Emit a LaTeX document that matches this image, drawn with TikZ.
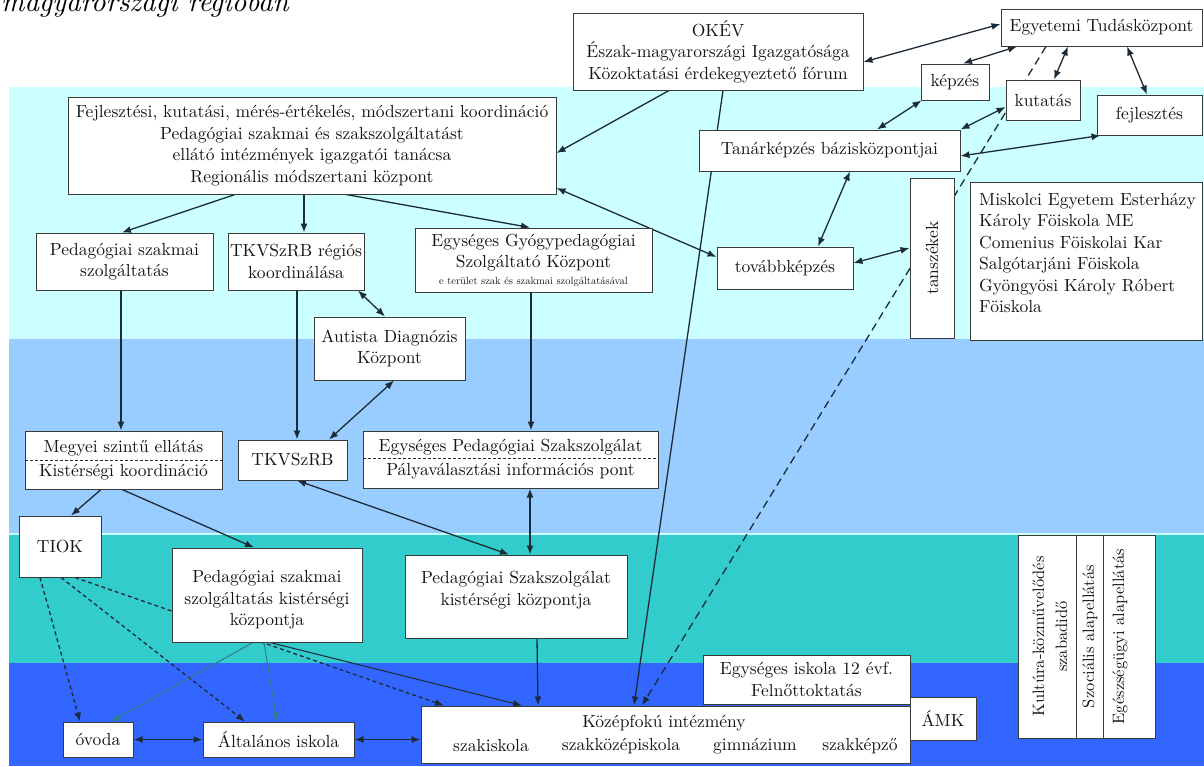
\documentclass[tikz,border=0pt]{standalone}
\usepackage{fontspec}
\setmainfont{lmroman10-regular}[Extension=.otf, ItalicFont=lmroman10-italic, BoldFont=lmroman10-bold]
\usetikzlibrary{arrows.meta,calc}
\pgfdeclarelayer{bands}
\pgfdeclarelayer{lines}
\pgfsetlayers{bands,lines,main}
\definecolor{bandA}{HTML}{CCFFFF}
\definecolor{bandB}{HTML}{99CCFF}
\definecolor{bandC}{HTML}{33CCCC}
\definecolor{bandD}{HTML}{3366FF}
\definecolor{ink}{HTML}{1C2B38}
\definecolor{edge}{HTML}{3A3A3A}
\definecolor{thinteal}{HTML}{2E7F86}
\definecolor{txtc}{HTML}{141414}
\tikzset{
  bx/.style={draw=edge, line width=1pt, fill=white, inner sep=0pt, align=center,
    font=\fontsize{17.5}{21.5}\selectfont, text=txtc},
  txt/.style={inner sep=0pt, align=center, font=\fontsize{17.5}{21.5}\selectfont, text=txtc},
  coltxt/.style={txt, rotate=90, font=\fontsize{16.5}{23}\selectfont},
  conn/.style={draw=ink, line width=1.3pt},
  arr/.style={-{Latex[length=9pt,width=7pt]}},
  darr/.style={{Latex[length=9pt,width=7pt]}-{Latex[length=9pt,width=7pt]}},
  longdash/.style={dash pattern=on 8pt off 5pt},
  shortdash/.style={dash pattern=on 4pt off 3pt},
  thinline/.style={draw=thinteal, line width=1pt},
}
\begin{document}
\begin{tikzpicture}[x=1pt,y=-1pt]
\useasboundingbox (0,0) rectangle (1204,766);
% ---------- nodes ----------
\node[anchor=base west, inner sep=0pt, font=\fontsize{28.5}{34}\selectfont\itshape, text=black] (title) at (1,11) {magyarországi régióban};

\node[bx, minimum width=290pt, minimum height=77pt] (okev) at (718,51.5) {OKÉV\\Észak-magyarországi Igazgatósága\\Közoktatási érdekegyeztető fórum};
\node[bx, minimum width=201pt, minimum height=37pt] (egy) at (1101.5,27.5) {Egyetemi Tudásközpont};
\node[bx, minimum width=68pt, minimum height=36pt] (kepzes) at (955,82) {képzés};
\node[bx, minimum width=74pt, minimum height=40pt] (kutatas) at (1043,100) {kutatás};
\node[bx, minimum width=105pt, minimum height=40pt] (fejlesztes) at (1149.5,115) {fejlesztés};
\node[bx, minimum width=261pt, minimum height=41pt] (tanar) at (829.5,150.5) {Tanárképzés bázisközpontjai};
\node[bx, minimum width=488pt, minimum height=97pt] (fejl) at (312,145.5) {Fejlesztési, kutatási, mérés-értékelés, módszertani koordináció\\Pedagógiai szakmai és szakszolgáltatást\\ellátó intézmények igazgatói tanácsa\\Regionális módszertani központ};

\node[bx, minimum width=177pt, minimum height=57pt] (pedsz) at (124.5,261.5) {Pedagógiai szakmai\\szolgáltatás};
\node[bx, minimum width=136pt, minimum height=57pt] (tkvreg) at (296,261.5) {TKVSzRB régiós\\koordinálása};
\node[bx, minimum width=237pt, minimum height=64pt] (egygyogy) at (533.5,260) {Egységes Gyógypedagógiai\\Szolgáltató Központ\\[-5pt]{\fontsize{10.5}{12}\selectfont e terület szak és szakmai szolgáltatásával}};
\node[bx, minimum width=136pt, minimum height=42pt] (tovabb) at (785,268) {továbbképzés};
\node[bx, minimum width=44pt, minimum height=160pt] (tansz) at (932,258) {};
\node[txt, rotate=90] (tansztext) at (tansz.center) {tanszékek};
\node[bx, minimum width=232pt, minimum height=158pt] (misk) at (1086,261) {};
\node[txt, anchor=north west, align=left] (misktext) at (979,193) {Miskolci Egyetem Esterházy\\Károly Föiskola ME\\Comenius Föiskolai Kar\\Salgótarjáni Föiskola\\Gyöngyösi Károly Róbert\\Föiskola};
\node[bx, minimum width=151pt, minimum height=63pt] (autista) at (389.5,348.5) {Autista Diagnózis\\Központ};

\node[bx, minimum width=197pt, minimum height=58pt, font=\fontsize{17.5}{24}\selectfont] (megyei) at (123.5,460) {Megyei szintű ellátás\\Kistérségi koordináció};
\node[bx, minimum width=109pt, minimum height=40pt] (tkv) at (292.5,460) {TKVSzRB};
\node[bx, minimum width=295pt, minimum height=57pt, font=\fontsize{17.5}{24}\selectfont] (egyped) at (510.5,459.5) {Egységes Pedagógiai Szakszolgálat\\Pályaválasztási információs pont};

\node[bx, minimum width=82pt, minimum height=61pt] (tiok) at (60,546.5) {TIOK};
\node[bx, minimum width=190pt, minimum height=94pt] (pedkist) at (267,595) {};
\node[txt] (pedkisttext) at (267,600) {Pedagógiai szakmai\\szolgáltatás kistérségi\\központja};
\node[bx, minimum width=222pt, minimum height=83pt] (szakkist) at (516,596.5) {};
\node[txt] (szakkisttext) at (516,590) {Pedagógiai Szakszolgálat\\kistérségi központja};

\node[bx, minimum width=137pt, minimum height=203pt] (cols) at (1086.5,636.5) {};
\node[coltxt] (colA) at (1050,636.5) {Kultúra-közművelődés\\szabadidő};
\node[coltxt] (colB) at (1090,636.5) {Szociális alapellátás};
\node[coltxt] (colC) at (1120,636.5) {Egészségügyi alapellátás};

\node[bx, minimum width=207pt, minimum height=49pt] (egyisk) at (806.5,679.5) {Egységes iskola 12 évf.\\Felnőttoktatás};
\node[bx, minimum width=66pt, minimum height=43pt] (amk) at (943,718.5) {ÁMK};
\node[bx, minimum width=489pt, minimum height=57pt] (kozep) at (665.5,734.5) {};
\node[txt] (kozepA) at (664,723) {Középfokú intézmény};
\node[txt] (kozepB) at (491,746) {szakiskola};
\node[txt] (kozepC) at (621,746) {szakközépiskola};
\node[txt] (kozepD) at (755,746) {gimnázium};
\node[txt] (kozepE) at (860,746) {szakképző};
\node[bx, minimum width=70pt, minimum height=35pt] (ovoda) at (98,739.5) {óvoda};
\node[bx, minimum width=151pt, minimum height=35pt] (altal) at (278.5,739.5) {Általános iskola};

% dividers inside boxes
\draw[edge, line width=1pt] ([xshift=-10.5pt]cols.north) -- ([xshift=-10.5pt]cols.south);
\draw[edge, line width=1pt] ([xshift=16.5pt]cols.north) -- ([xshift=16.5pt]cols.south);
\draw[ink, line width=1pt, dash pattern=on 3pt off 2pt] (megyei.west) -- (megyei.east);
\draw[ink, line width=1pt, dash pattern=on 3pt off 2pt] ([yshift=1pt]egyped.west) -- ([yshift=1pt]egyped.east);

% ---------- background bands ----------
\begin{pgfonlayer}{bands}
\fill[white] (0,0) rectangle (1204,766);
\fill[bandA] (9,87) rectangle (1204,339);
\fill[bandB] (9,339) rectangle (1204,533);
\fill[bandC] (9,533) rectangle (1204,663);
\fill[bandD] (9,663) rectangle (1204,766);
\draw[bandA, line width=2pt] (9,534) -- (1204,534);
\end{pgfonlayer}

% ---------- connectors ----------
\begin{pgfonlayer}{lines}
\draw[conn, darr] ([yshift=-10.5pt]okev.east) -- ([yshift=3.5pt]egy.west);
\draw[conn, darr] ([xshift=-84.5pt]egy.south) -- ([xshift=8pt]kepzes.north);
\draw[conn, darr] ([xshift=-33.5pt]egy.south) -- ([xshift=11pt]kutatas.north);
\draw[conn, darr] ([xshift=25.5pt]egy.south) -- ([xshift=-2.5pt]fejlesztes.north);
\draw[conn, darr] ([xshift=1pt]kepzes.south west) -- ([xshift=47.5pt]tanar.north);
\draw[conn, darr] ([yshift=-7pt]kutatas.west) -- (tanar.north east);
\draw[conn, darr] ([xshift=4pt]fejlesztes.south west) -- ([yshift=-5.5pt]tanar.east);
\draw[conn, arr, longdash] ([xshift=-55.5pt]egy.south) -- ([xshift=-23.5pt]kozep.north);
\draw[conn, arr] ([xshift=5pt]okev.south) -- ([xshift=-31.5pt]kozep.north);
\draw[conn, arr] ([xshift=-49pt]okev.south) -- ([yshift=-7.5pt]fejl.east);
\draw[conn, darr] ([yshift=-42.5pt]fejl.east) -- ([yshift=11pt]tovabb.west);
\draw[conn, darr] ([xshift=20.5pt]tanar.south) -- ([xshift=33pt]tovabb.north);
\draw[conn, darr] ([yshift=5pt]tovabb.east) -- ([yshift=10pt]tansz.west);
\draw[conn, arr] ([xshift=-77pt]fejl.south) -- ([xshift=-2.5pt]pedsz.north);
\draw[conn, arr] ([xshift=-8pt]fejl.south) -- ([xshift=8pt]tkvreg.north);
\draw[conn, arr] ([xshift=34pt]fejl.south) -- ([xshift=-3.5pt]egygyogy.north);
\draw[conn, darr] ([xshift=62pt]tkvreg.south) -- ([xshift=-4.5pt]autista.north);
\draw[conn, arr] ([xshift=-3.5pt]pedsz.south) -- ([xshift=-2.5pt]megyei.north);
\draw[conn, arr] ([xshift=1pt]tkvreg.south) -- ([xshift=4.5pt]tkv.north);
\draw[conn, arr] ([xshift=-2.5pt]egygyogy.south) -- ([xshift=20.5pt]egyped.north);
\draw[conn, darr] ([xshift=4.5pt]autista.south) -- ([xshift=36.5pt]tkv.north);
\draw[conn, arr] ([xshift=-22.5pt]megyei.south) -- ([xshift=11pt]tiok.north);
\draw[conn, arr] ([xshift=-1.5pt]megyei.south) -- ([xshift=-13pt]pedkist.north);
\draw[conn, darr] ([xshift=4.5pt]tkv.south) -- ([xshift=-7pt]szakkist.north);
\draw[conn, darr] ([xshift=19.5pt]egyped.south) -- ([xshift=14pt]szakkist.north);
\draw[conn, arr] ([xshift=21pt]szakkist.south) -- ([xshift=-127.5pt]kozep.north);
\draw[conn, arr, shortdash] ([xshift=-20pt]tiok.south) -- ([xshift=-18pt]ovoda.north);
\draw[conn, arr, shortdash] ([xshift=1pt]tiok.south) -- ([xshift=-33.5pt]altal.north);
\draw[conn, arr, shortdash] ([xshift=15pt]tiok.south) -- ([xshift=-221.5pt]kozep.north);
\draw[thinline, arr] ([xshift=-14pt]pedkist.south) -- ([xshift=13pt]ovoda.north);
\draw[thinline, arr] ([xshift=-3pt]pedkist.south) -- ([xshift=-1.5pt]altal.north);
\draw[conn, line width=1pt, arr] ([xshift=3pt]pedkist.south) -- ([xshift=-143.5pt]kozep.north);
\draw[conn, darr] (ovoda.east) -- (altal.west);
\draw[conn, darr] (altal.east) -- (kozep.west |- altal.east);
\end{pgfonlayer}
\end{tikzpicture}
\end{document}
